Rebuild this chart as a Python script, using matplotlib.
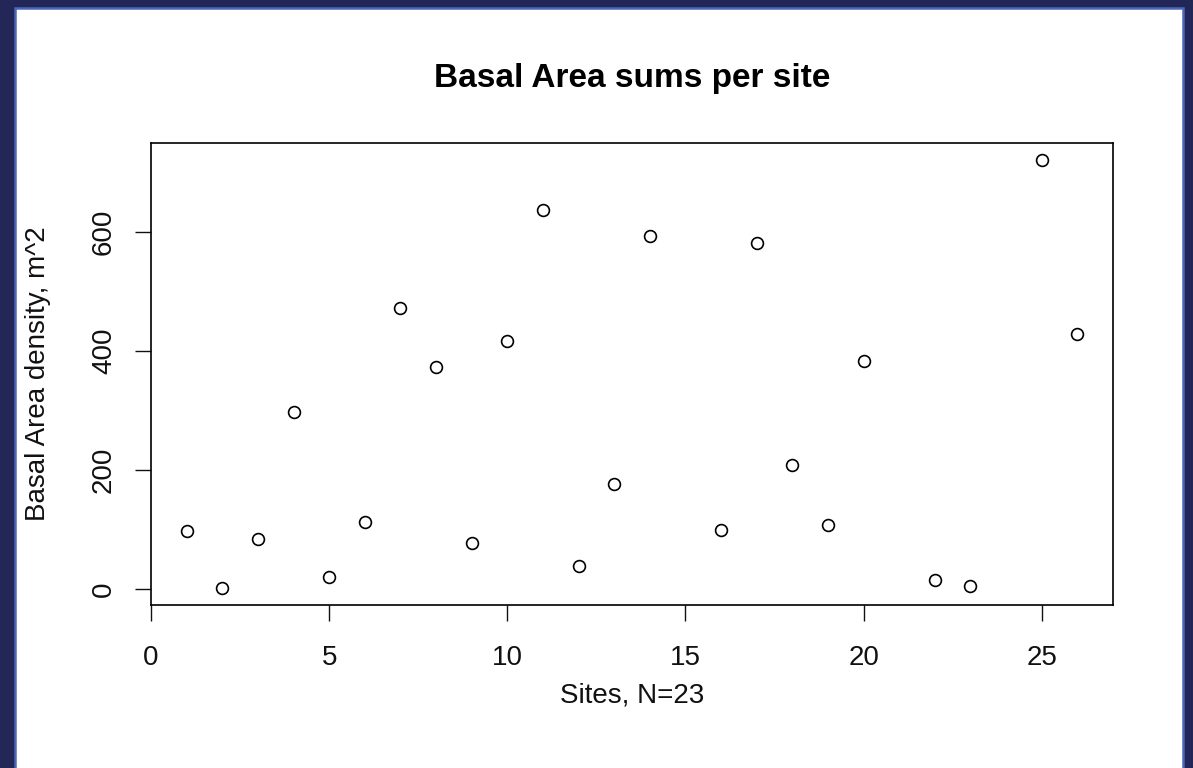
#!/usr/bin/env python3
"""
サイトごとの胸高断面積合計（R の plot() 風の散布図）
"""
import matplotlib
matplotlib.use('Agg')
import matplotlib.pyplot as plt
from matplotlib.patches import Rectangle

# データ
sites = [1, 2, 3, 4, 5, 6, 7, 8, 9, 10, 11, 12, 13, 14, 16, 17, 18, 19, 20, 22, 23, 25, 26]
basal_area = [98, 2, 84, 298, 21, 112, 471, 373, 78, 417, 636, 38, 176, 593,
              99, 581, 208, 107, 382, 15, 6, 720, 428]

x_ticks = [0, 5, 10, 15, 20, 25]
y_ticks = [0, 200, 400, 600]

title = 'Basal Area sums per site'
x_label = 'Sites, N=23'
y_label = 'Basal Area density, m^2'

# 色
NAVY = '#232757'
EDGE_BLUE = '#4a68b8'

W, H = 1193, 768
plt.rcParams['font.family'] = ['Liberation Sans', 'DejaVu Sans']

fig = plt.figure(figsize=(W / 100, H / 100), dpi=100)
fig.patch.set_facecolor(NAVY)

# 白いパネル（青い縁取り）
panel = Rectangle((15 / W, -0.05), (1183 - 15) / W, (H - 8) / H + 0.05,
                  transform=fig.transFigure, facecolor='white',
                  edgecolor=EDGE_BLUE, linewidth=1.8, zorder=-10)
fig.patches.append(panel)

# プロット領域
left, right, top, bottom = 151, 1113, 143, 605
ax = fig.add_axes([left / W, (H - bottom) / H, (right - left) / W, (bottom - top) / H])
ax.set_zorder(1)
ax.set_facecolor('white')

ax.plot(sites, basal_area, 'o', markerfacecolor='none', markeredgecolor='black',
        markersize=8.5, markeredgewidth=1.2)

# R 既定の 4% 余白
x_span = max(sites) - min(sites)
y_span = max(basal_area) - min(basal_area)
ax.set_xlim(min(sites) - 0.04 * x_span, max(sites) + 0.04 * x_span)
ax.set_ylim(min(basal_area) - 0.04 * y_span, max(basal_area) + 0.04 * y_span)

ax.set_xticks(x_ticks)
ax.set_yticks(y_ticks)
for s in ax.spines.values():
    s.set_linewidth(1.2)
    s.set_color('black')
ax.tick_params(direction='out', length=11.5, width=1.0, labelsize=20, colors='#111111')
ax.tick_params(axis='x', pad=17)
ax.tick_params(axis='y', pad=13)
for lbl in ax.get_yticklabels():
    lbl.set_rotation(90)
    lbl.set_verticalalignment('center')

# タイトル・軸ラベル
cx = (left + right) / 2 / W
fig.text(cx, 1 - 78 / H, title, ha='center', va='center', fontsize=24, weight='bold')
fig.text(cx, 1 - 695 / H, x_label, ha='center', va='center', fontsize=20, color='#111111')
fig.text(38 / W, 1 - 374 / H, y_label, ha='center', va='center', fontsize=20,
         rotation=90, color='#111111')

plt.savefig('out.png', dpi=100, facecolor=fig.get_facecolor())
